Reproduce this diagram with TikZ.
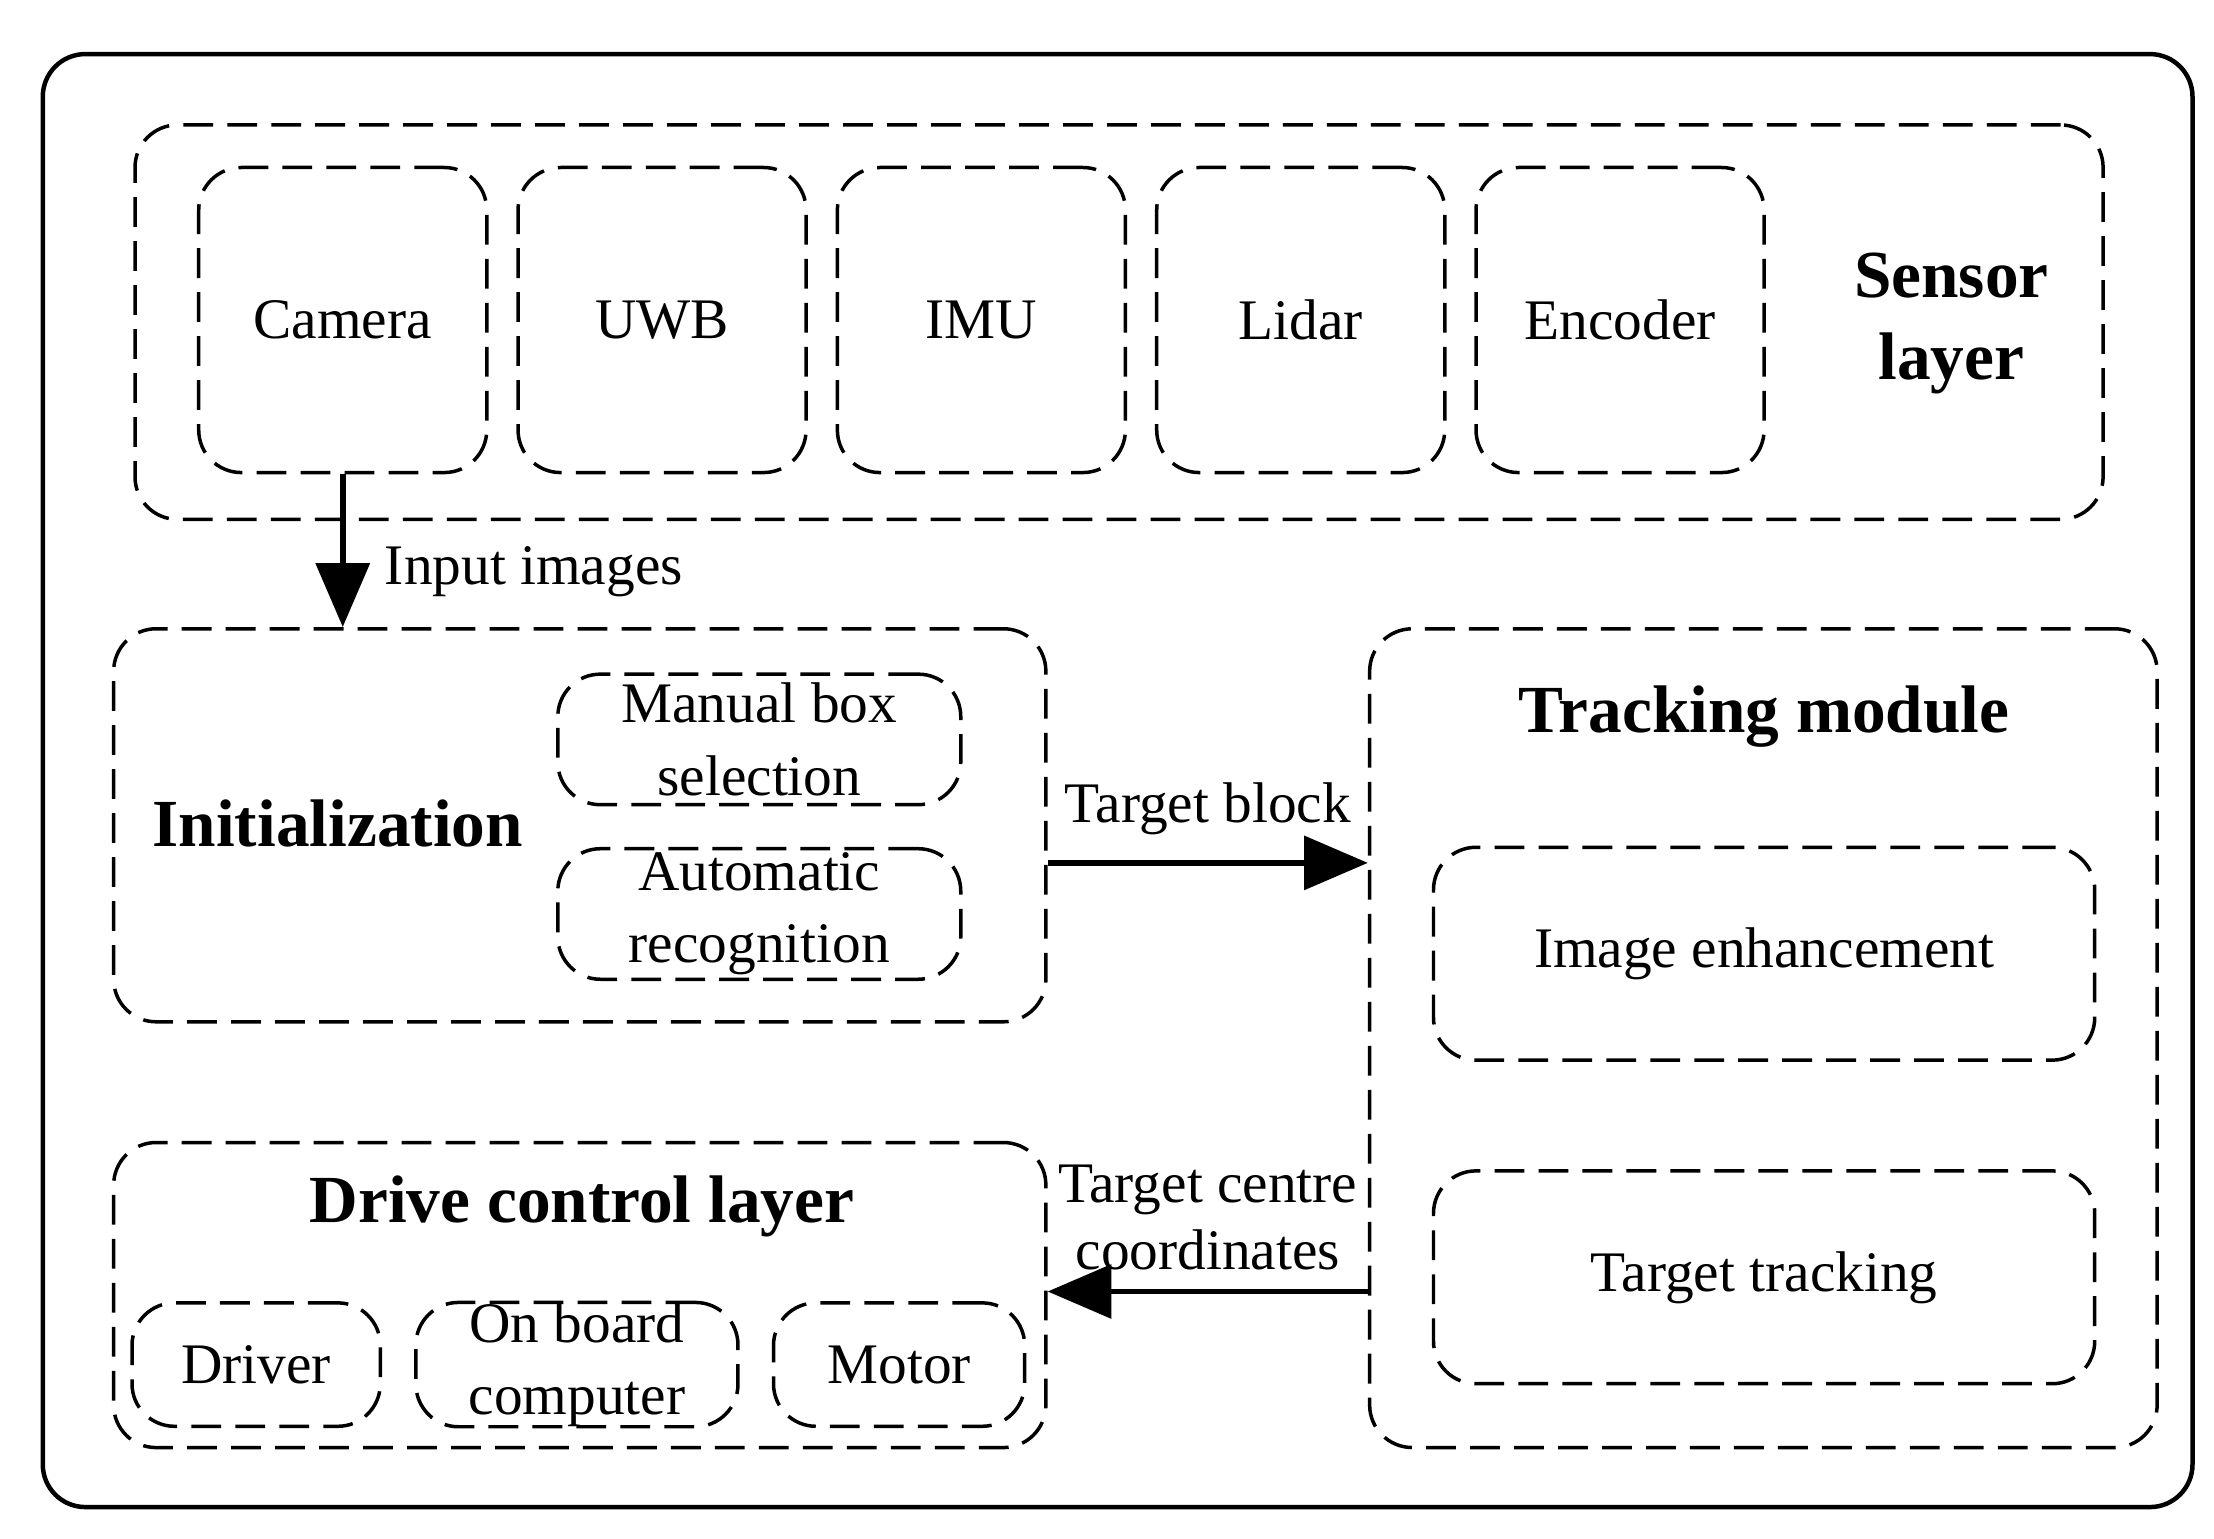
\documentclass[tikz,border=0pt]{standalone}
\usepackage{fontspec}
\setmainfont{Liberation Serif}
\usetikzlibrary{positioning,arrows.meta}
\tikzset{
    box/.style={draw, line width=1.4pt, dash pattern=on 0.42cm off 0.2cm, rounded corners=0.6cm, align=center, inner sep=0pt, font=\fontsize{23}{29}\selectfont},
    title/.style={align=center, font=\fontsize{27}{33}\selectfont\bfseries},
    lbl/.style={align=center, font=\fontsize{23}{27}\selectfont},
    flow/.style={line width=2.4pt, -{Triangle[length=0.9cm, width=0.75cm]}}
}
\begin{document}
\begin{tikzpicture}[x=0.02cm, y=-0.02cm]
			\useasboundingbox (0,0) rectangle (1560,1084);
			\node[draw, line width=1.8pt, rounded corners=0.6cm, minimum width=30.3cm, minimum height=20.48cm] (frame) at (787.5,550) {};
			% sensor layer
			\node[box, minimum width=27.74cm, minimum height=5.56cm] (sensor) at (788.5,227) {};
			\node[box, minimum width=4.06cm, minimum height=4.3cm] (camera) at (241.5,225.5) {Camera};
			\node[box, minimum width=4.06cm, minimum height=4.3cm] (uwb) at (466.5,225.5) {UWB};
			\node[box, minimum width=4.06cm, minimum height=4.3cm] (imu) at (691.5,225.5) {IMU};
			\node[box, minimum width=4.06cm, minimum height=4.3cm] (lidar) at (916.5,225.5) {Lidar};
			\node[box, minimum width=4.06cm, minimum height=4.3cm] (encoder) at (1141.5,225.5) {Encoder};
			\node[title] (sensorTitle) at (1375,228) {Sensor\\layer};
			% initialization
			\node[box, minimum width=13.14cm, minimum height=5.54cm] (init) at (408.5,581.5) {};
			\node[title] (initTitle) at (238,580) {Initialization};
			\node[box, minimum width=5.68cm, minimum height=1.84cm] (manual) at (535,521) {Manual box\\selection};
			\node[box, minimum width=5.68cm, minimum height=1.84cm] (auto) at (535,644) {Automatic\\recognition};
			% tracking module
			\node[box, minimum width=11.1cm, minimum height=11.54cm] (track) at (1242.5,731.5) {};
			\node[title] (trackTitle) at (1243,505) {Tracking module};
			\node[box, minimum width=9.32cm, minimum height=3cm] (enhance) at (1243,672) {Image enhancement};
			\node[box, minimum width=9.32cm, minimum height=3cm] (tracking) at (1243,900) {Target tracking};
			% drive control layer
			\node[box, minimum width=13.14cm, minimum height=4.3cm] (drive) at (408.5,912.5) {};
			\node[title] (driveTitle) at (410,850) {Drive control layer};
			\node[box, minimum width=3.5cm, minimum height=1.74cm] (driver) at (180.5,961.5) {Driver};
			\node[box, minimum width=4.54cm, minimum height=1.74cm] (computer) at (406.5,961.5) {On board\\computer};
			\node[box, minimum width=3.54cm, minimum height=1.74cm] (motor) at (633.5,961.5) {Motor};
			% connectors
			\coordinate (blockY) at (0,608);
			\coordinate (centreY) at (0,910);
			\draw[flow] (camera.south) -- (camera.south |- init.north);
			\node[lbl, anchor=west] (inputLbl) at (265,403) {Input images};
			\draw[flow] (init.east |- blockY) -- (track.west |- blockY);
			\node[lbl] (blockLbl) at (851,570) {Target block};
			\draw[flow] (track.west |- centreY) -- (drive.east |- centreY);
			\node[lbl] (centreLbl) at (851,858) {Target centre\\coordinates};
	\end{tikzpicture}
\end{document}
